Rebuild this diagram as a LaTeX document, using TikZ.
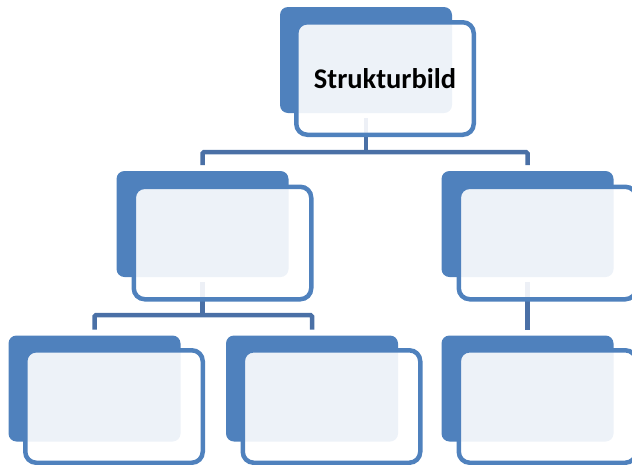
\documentclass[tikz,border=0pt]{standalone}
\usepackage{fontspec}
\setsansfont{Carlito}
\pgfdeclarelayer{bg}
\pgfsetlayers{bg,main}
\definecolor{acc}{HTML}{4F81BD}
\definecolor{conn}{HTML}{4A70A6}
\tikzset{
  backbox/.style={fill=acc, rounded corners=8pt, minimum width=172pt, minimum height=106pt, inner sep=0pt, outer sep=0pt},
  frontbox/.style={draw=acc, line width=4.5pt, fill=white, fill opacity=0.9, text opacity=1, rounded corners=11pt, minimum width=177.5pt, minimum height=112.5pt, inner sep=0pt, outer sep=0pt, font=\sffamily\bfseries\fontsize{28.5}{32}\selectfont, text=black},
  link/.style={draw=conn, line width=4.5pt, rounded corners=1.5pt}
}
\begin{document}
\begin{tikzpicture}[x=1pt,y=-1pt]
\useasboundingbox (0,0) rectangle (632,464);
\clip (0,0) rectangle (632,464);
% top unit
\node[backbox] (b0) at (366,60) {};
\node[frontbox] (f0) at (385,78.5) {Strukturbild};
% level 2
\node[backbox] (b1) at (202.5,224) {};
\node[frontbox] (f1) at (222.5,243) {};
\node[backbox] (b2) at (527.5,224) {};
\node[frontbox] (f2) at (547.5,243) {};
% level 3
\node[backbox] (b3) at (94.5,388.5) {};
\node[frontbox] (f3) at (114,406.5) {};
\node[backbox] (b4) at (312,388.5) {};
\node[frontbox] (f4) at (331.5,406.5) {};
\node[backbox] (b5) at (527.5,388.5) {};
\node[frontbox] (f5) at (547.5,406.5) {};
\begin{pgfonlayer}{bg}
\coordinate (h0) at (0,152);
\coordinate (h1) at (0,315);
\draw[link] ([yshift=-5pt]b0.south) -- (b0.south |- h0);
\draw[link] ([yshift=6pt]b1.north) -- (b1.north |- h0) -- (b2.north |- h0) -- ([yshift=6pt]b2.north);
\draw[link] ([yshift=-5pt]b1.south) -- (b1.south |- h1);
\draw[link] ([yshift=6pt]b3.north) -- (b3.north |- h1) -- (b4.north |- h1) -- ([yshift=6pt]b4.north);
\draw[link] ([yshift=-5pt]b2.south) -- ([yshift=6pt]b5.north);
\end{pgfonlayer}
\end{tikzpicture}
\end{document}
